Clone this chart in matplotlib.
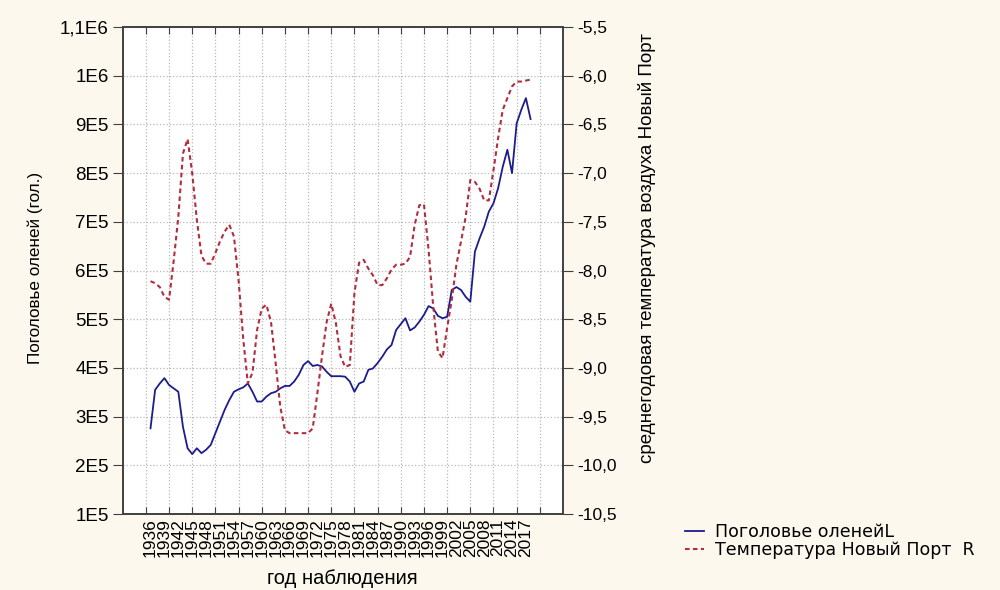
import matplotlib
matplotlib.use('Agg')
import matplotlib.pyplot as plt

plt.rcParams['font.family'] = ['Liberation Sans', 'DejaVu Sans']

# annual series, 1936-2018
years = list(range(1936, 2019))
deer = [276000, 355000, 368000, 379000, 365000, 358000, 351000, 279000, 235000, 223000,
        235000, 225000, 232000, 242000, 266000, 290000, 314000, 334000, 351000, 356000,
        360000, 368000, 351000, 331000, 331000, 341000, 348000, 351000, 358000, 363000,
        363000, 372000, 386000, 406000, 414000, 404000, 406000, 403000, 392000, 383000,
        383000, 383000, 382000, 372000, 351000, 368000, 372000, 396000, 399000, 410000,
        423000, 438000, 447000, 478000, 490000, 502000, 477000, 483000, 495000, 509000,
        527000, 522000, 507000, 502000, 505000, 560000, 566000, 560000, 546000, 536000,
        639000, 666000, 690000, 721000, 738000, 769000, 813000, 848000, 800000, 902000,
        930000, 954000, 911000]
temp = [-8.11, -8.13, -8.17, -8.27, -8.30, -7.90, -7.45, -6.80, -6.65, -7.00,
        -7.48, -7.85, -7.93, -7.93, -7.82, -7.70, -7.60, -7.53, -7.65, -8.10,
        -8.70, -9.16, -9.05, -8.61, -8.39, -8.35, -8.53, -8.95, -9.40, -9.64,
        -9.67, -9.67, -9.67, -9.67, -9.67, -9.62, -9.26, -8.88, -8.53, -8.34,
        -8.54, -8.88, -8.99, -8.97, -8.23, -7.92, -7.89, -7.98, -8.05, -8.15,
        -8.15, -8.08, -7.99, -7.94, -7.94, -7.93, -7.86, -7.53, -7.33, -7.32,
        -7.79, -8.37, -8.83, -8.90, -8.59, -8.30, -7.94, -7.70, -7.45, -7.07,
        -7.09, -7.16, -7.28, -7.28, -6.97, -6.64, -6.35, -6.23, -6.11, -6.06,
        -6.06, -6.05, -6.04]

left_ticks = [1e5, 2e5, 3e5, 4e5, 5e5, 6e5, 7e5, 8e5, 9e5, 1e6, 1.1e6]
left_labels = ['1E5', '2E5', '3E5', '4E5', '5E5', '6E5', '7E5', '8E5', '9E5', '1E6', '1,1E6']
right_ticks = [-10.5, -10.0, -9.5, -9.0, -8.5, -8.0, -7.5, -7.0, -6.5, -6.0, -5.5]
right_labels = ['-10,5', '-10,0', '-9,5', '-9,0', '-8,5', '-8,0', '-7,5', '-7,0', '-6,5', '-6,0', '-5,5']
label_years = list(range(1936, 2018, 3))
grid_years = list(range(1935, 2021, 5))

bg = '#fcf8ee'
edge = '#404040'

fig = plt.figure(figsize=(10, 5.9), dpi=100, facecolor=bg)
ax = fig.add_axes([0.1227, 0.1288, 0.4403, 0.8254])
ax.set_facecolor('white')

l1, = ax.plot(years, deer, color='#1c1c8c', lw=1.3)
ax.set_xlim(1930, 2025)
ax.set_ylim(1e5, 1.1e6)
ax.set_yticks(left_ticks)
ax.set_yticklabels(left_labels)

# grid / tick marks every 5 years, year labels every 3 years
ax.xaxis.remove_overlapping_locs = False
ax.set_xticks(grid_years)
ax.set_xticklabels([])
ax.set_xticks(label_years, minor=True)
ax.set_xticklabels([str(y) for y in label_years], minor=True, rotation=90)
ax.tick_params(axis='x', which='major', direction='in', top=True, length=5, color=edge)
ax.tick_params(axis='x', which='minor', length=0, pad=3, labelsize=12.5)
ax.tick_params(axis='y', direction='out', length=7, labelsize=13.5, color=edge, pad=3)
ax.grid(True, which='major', color='#b8b8b8', linestyle=':', lw=0.9)
for s in ax.spines.values():
    s.set_color(edge)
    s.set_linewidth(1.2)

ax2 = ax.twinx()
l2, = ax2.plot(years, temp, color='#b02e3e', lw=1.5, linestyle=(0, (2.2, 1.6)))
ax2.set_ylim(-10.5, -5.5)
ax2.set_yticks(right_ticks)
ax2.set_yticklabels(right_labels)
ax2.tick_params(axis='y', direction='out', length=7, labelsize=12.5, color=edge, pad=3)
for s in ax2.spines.values():
    s.set_color(edge)
    s.set_linewidth(1.2)

fig.text(0.035, 1 - 268 / 590, 'Поголовье оленей (гол.)', rotation=90,
         ha='center', va='center', fontsize=12.3)
fig.text(0.647, 1 - 248 / 590, 'среднегодовая температура воздуха Новый Порт', rotation=90,
         ha='center', va='center', fontsize=13.5)
fig.text(0.342, 1 - 578 / 590, 'год наблюдения', ha='center', va='center', fontsize=14.5)

fig.legend([l1, l2], ['Поголовье оленейL', 'Температура Новый Порт  R'],
           loc='upper left', bbox_to_anchor=(0.685, 1 - 523 / 590), frameon=False,
           prop={'family': 'DejaVu Sans', 'size': 12.5}, handlelength=1.1,
           handletextpad=0.6, labelspacing=0.0, borderaxespad=0, borderpad=0)

fig.savefig('out.png', dpi=100, facecolor=bg)
